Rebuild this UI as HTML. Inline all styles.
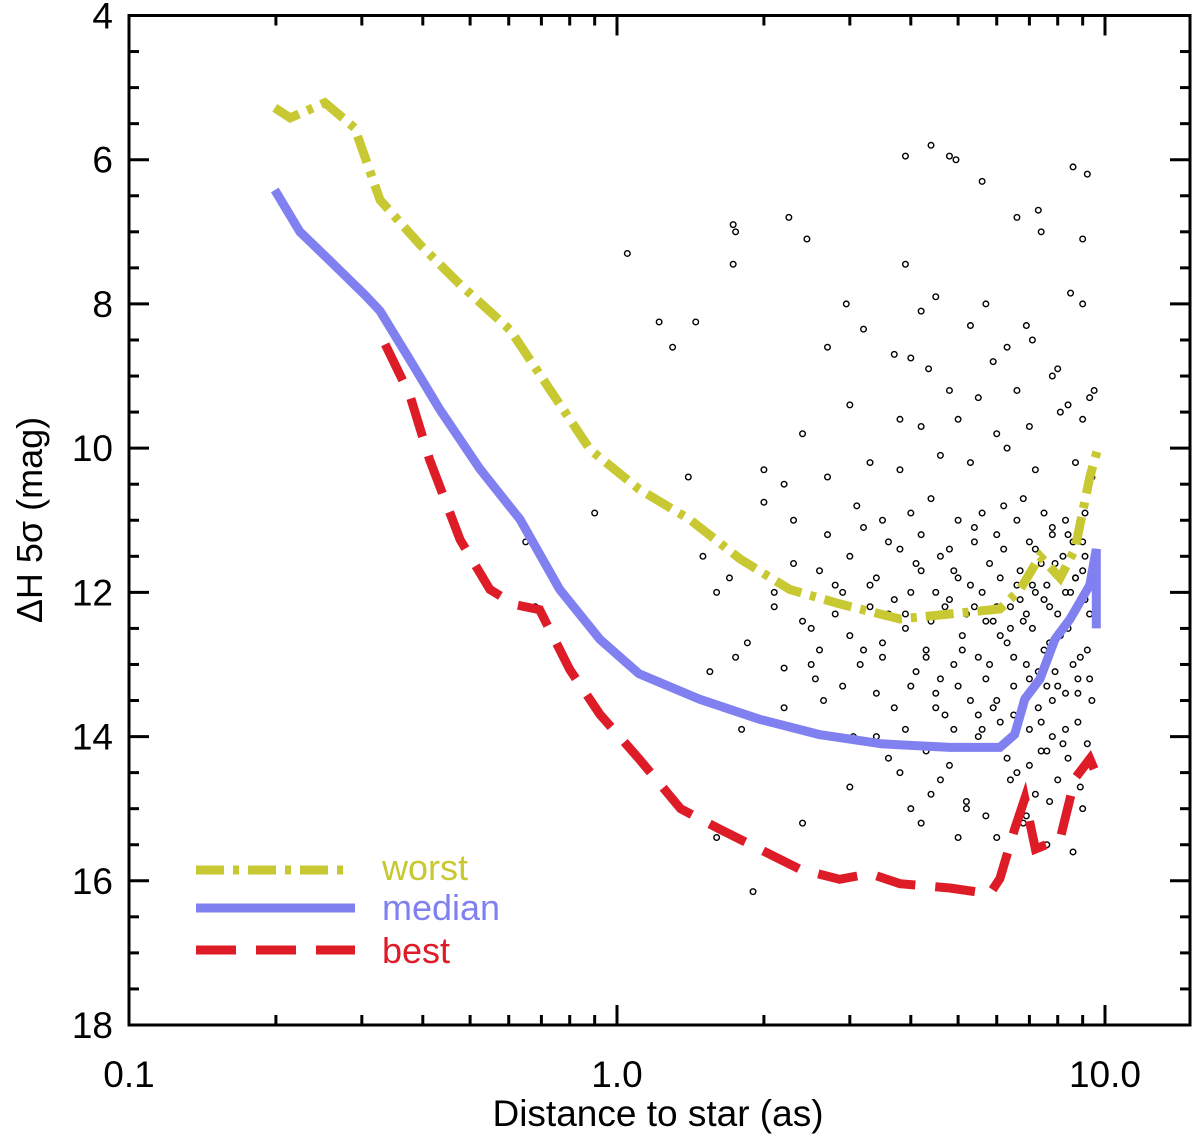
<!DOCTYPE html>
<html><head><meta charset="utf-8"><style>
html,body{margin:0;padding:0;background:#fff;}
svg{display:block;font-family:"Liberation Sans",Arial,sans-serif;}
</style></head><body>
<svg id="chart" width="1200" height="1138" viewBox="0 0 1200 1138" xmlns="http://www.w3.org/2000/svg">
<g id="grid-layer"></g>
<g id="pts"></g>
<g id="lines"></g>
<g id="legend">
  <line x1="196" y1="870" x2="352" y2="870" stroke="#c8c832" stroke-width="9" stroke-dasharray="28,9,6,9"/>
  <text x="382" y="880" font-size="36" fill="#c8c832">worst</text>
  <line x1="196" y1="908" x2="355" y2="908" stroke="#8080f0" stroke-width="9"/>
  <text x="382" y="920" font-size="36" fill="#8080f0">median</text>
  <line x1="196" y1="950" x2="355" y2="950" stroke="#dd1c28" stroke-width="9" stroke-dasharray="40,20"/>
  <text x="382" y="963" font-size="36" fill="#dd1c28">best</text>
</g>
<text x="658" y="1126" font-size="37" text-anchor="middle">Distance to star (as)</text>
<text transform="translate(42,520) rotate(-90)" font-size="36" text-anchor="middle">ΔH 5σ (mag)</text>
</svg>
<script>
const worstX=[0.199,0.214,0.252,0.29,0.327,0.395,0.477,0.604,0.729,0.881,1.11,1.41,1.79,2.26,2.86,3.8,4.81,6.09,6.7,7.36,8.09,8.68,9.31,9.67];
const worstY=[5.28,5.42,5.21,5.56,6.56,7.18,7.73,8.36,9.19,10.02,10.57,10.99,11.54,11.96,12.16,12.37,12.3,12.23,11.96,11.5,11.8,11.4,10.4,10.0];
const medianX=[0.199,0.224,0.258,0.304,0.327,0.376,0.433,0.524,0.633,0.763,0.922,1.11,1.475,1.96,2.59,3.48,4.81,6.09,6.53,6.85,7.36,7.9,8.48,9.31,9.6,9.6];
const medianY=[6.42,7.0,7.4,7.87,8.1,8.77,9.46,10.29,10.99,11.96,12.65,13.13,13.48,13.76,13.97,14.1,14.15,14.15,13.97,13.48,13.2,12.65,12.37,11.9,11.4,12.5];
const bestX=[0.335,0.376,0.413,0.477,0.549,0.617,0.694,0.8,0.922,1.11,1.35,1.62,1.96,2.37,2.86,3.3,3.8,4.81,5.81,6.09,6.53,6.85,7.2,8.09,8.68,9.31,9.5];
const bestY=[8.56,9.26,10.16,11.27,11.96,12.17,12.24,13.07,13.69,14.31,15.0,15.28,15.56,15.84,15.98,15.9,16.04,16.1,16.18,15.97,15.28,14.86,15.56,15.42,14.58,14.31,14.45];
const ptX=[4.4,3.9,4.8,4.95,5.6,8.6,9.2,1.73,1.75,2.25,2.45,6.6,7.3,7.4,9.0,1.05,1.73,3.9,8.5,2.95,9.0,1.22,1.45,1.3,3.2,4.2,5.7,4.5,2.7,6.9,5.3,3.7,4.0,4.35,6.3,7.1,5.9,8.0,9.5,3.0,4.8,5.5,6.6,7.8,8.4,9.3,2.4,3.8,4.2,5.0,6.0,7.0,8.1,9.0,1.4,2.0,2.2,2.7,3.3,3.8,4.6,5.3,6.3,7.2,8.7,9.4,0.9,1.5,1.7,2.0,2.3,2.7,3.1,3.5,4.0,4.4,5.0,5.6,6.2,6.8,7.5,8.3,9.1,1.6,1.75,1.85,2.1,2.2,2.4,2.5,2.6,2.8,2.9,3.0,3.15,3.3,3.5,3.7,3.9,4.1,4.3,4.5,4.7,4.9,5.1,5.3,5.5,5.7,5.9,6.1,6.3,6.5,6.7,6.9,7.1,7.3,7.5,7.7,7.9,8.1,8.3,8.5,8.7,8.9,9.1,9.3,2.3,2.6,3.0,3.4,3.8,4.2,4.6,5.0,5.4,5.8,6.2,6.6,7.0,7.4,7.8,8.2,8.6,9.0,3.2,3.6,4.0,4.4,4.8,5.2,5.6,6.0,6.4,6.8,7.2,7.6,8.0,3.4,3.8,4.0,4.4,4.8,5.2,5.7,6.0,6.4,6.8,7.2,7.6,8.2,8.6,9.0,3.0,2.4,1.9,1.6,4.2,5.0,3.6,3.9,4.3,5.5,6.2,6.6,7.0,7.4,7.8,8.0,8.4,8.8,9.2,4.7,5.9,6.8,7.6,8.6,0.65,0.68,1.55,1.8,2.2,2.55,2.65,2.9,3.05,3.4,
3.5,3.9,4.3,4.6,5.1,5.4,5.8,6.1,6.5,6.9,7.3,7.7,8.0,8.4,8.8,9.2,3.3,3.7,4.1,4.5,4.9,5.3,5.7,6.1,6.4,6.7,7.1,7.5,7.9,8.3,8.7,9.1,4.0,4.5,5.0,5.5,6.0,6.5,7.0,7.4,7.8,8.3,8.8,9.3,3.6,4.2,4.8,5.4,6.0,6.6,7.2,7.8,8.4,9.0,2.1,2.5,2.8,3.2,4.9,5.6,6.3,7.0,7.6,8.2,8.9,9.4,4.6,5.2,6.9,7.7];
const ptY=[5.8,5.95,5.95,6.0,6.3,6.1,6.2,6.9,7.0,6.8,7.1,6.8,6.7,7.0,7.1,7.3,7.45,7.45,7.85,8.0,8.0,8.25,8.25,8.6,8.35,8.1,8.0,7.9,8.6,8.3,8.3,8.7,8.75,8.9,8.6,8.5,8.8,8.9,9.2,9.4,9.2,9.3,9.2,9.0,9.4,9.3,9.8,9.6,9.7,9.6,9.8,9.7,9.5,9.6,10.4,10.3,10.5,10.4,10.2,10.3,10.1,10.2,10.0,10.3,10.2,10.4,10.9,11.5,11.8,10.75,11.0,11.2,10.8,11.0,10.9,10.7,11.0,10.9,10.8,10.7,10.9,11.0,10.9,12.0,12.9,12.7,12.2,13.05,12.4,13.0,12.8,12.3,13.3,12.6,13.0,12.2,12.9,13.6,12.5,13.1,12.8,13.4,12.2,13.0,12.6,13.5,12.9,13.2,12.4,13.8,12.7,13.3,12.1,13.0,12.5,13.6,12.8,12.2,13.1,12.6,13.4,12.0,11.8,12.9,11.5,12.3,11.6,11.7,11.5,11.8,11.4,11.7,11.5,11.8,11.3,11.6,11.4,11.9,11.3,11.6,11.2,11.5,11.3,11.7,11.1,12.3,12.0,12.4,12.1,12.3,12.0,12.2,12.5,12.4,12.0,11.9,12.3,14.0,14.5,15.0,14.8,14.4,14.9,15.1,15.4,14.6,15.2,14.8,15.5,15.3,15.6,15.0,14.7,15.2,16.15,15.4,15.2,15.4,14.3,13.9,14.2,14.0,14.1,14.5,13.9,14.2,14.0,14.6,14.3,13.8,14.1,13.7,13.6,13.5,13.3,13.0,11.3,12.2,13.1,13.9,13.6,13.2,13.5,12.0,14.0,13.4,
12.7,12.3,12.9,13.2,12.8,12.2,13.0,12.6,12.9,12.3,13.1,12.7,13.3,12.5,13.2,12.8,11.9,12.1,11.6,12.0,11.7,11.9,12.4,11.8,12.2,11.7,11.9,12.1,11.6,12.0,11.8,12.1,13.3,13.6,13.3,13.7,13.5,13.7,13.2,13.8,13.5,13.9,13.4,13.2,11.3,11.2,11.4,11.1,11.2,11.0,11.4,11.1,11.2,11.3,12.0,12.5,11.9,12.8,13.9,13.9,14.3,14.4,14.2,14.1,14.7,13.5,14.6,15.0,15.1,14.9];

const NS='http://www.w3.org/2000/svg';
const L=129,R=1190,T=15.5,B=1025,DEC=488;
function xs(v){return L+(Math.log10(v)+1)*DEC;}
function ys(v){return T+(v-4)*(B-T)/14;}
function mk(tag,attrs,parent){const e=document.createElementNS(NS,tag);for(const k in attrs)e.setAttribute(k,attrs[k]);parent.appendChild(e);return e;}
const ax=document.getElementById('grid-layer');
const frame=mk('rect',{x:L,y:T,width:R-L,height:B-T,fill:'none',stroke:'#000','stroke-width':3},ax);


for(let v=4;v<=18;v+=0.5){
  const y=ys(v),maj=(v%2===0),len=maj?20:10;
  const t1=mk('line',{x1:L,y1:y,x2:L+len,y2:y,stroke:'#000','stroke-width':3},ax);
  
  
  const t2=mk('line',{x1:R,y1:y,x2:R-len,y2:y,stroke:'#000','stroke-width':3},ax);
  
  
  if(maj){const tx=mk('text',{x:L-16,y:y+13,'font-size':37,'text-anchor':'end'},ax);tx.textContent=String(v);
  
  }
}
const xLabels=['0.1','1.0','10.0'];
for(let d=-1;d<=1;d++){
  for(let m=1;m<=9;m++){
    const v=m*Math.pow(10,d),x=xs(v);if(x>R)continue;
    const len=m===1?20:10;
    const t1=mk('line',{x1:x,y1:B,x2:x,y2:B-len,stroke:'#000','stroke-width':3},ax);
    
    
    const t2=mk('line',{x1:x,y1:T,x2:x,y2:T+len,stroke:'#000','stroke-width':3},ax);
    
    
    if(m===1){const tx=mk('text',{x:x,y:B+62,'font-size':37,'text-anchor':'middle'},ax);tx.textContent=xLabels[d+1];
    
    }
  }
}
const pg=document.getElementById('pts');
for(let i=0;i<ptX.length;i++){
  const c=mk('circle',{cx:xs(ptX[i]),cy:ys(ptY[i]),r:2.8,fill:'none',stroke:'#000','stroke-width':1.4},pg);
  
  
}
const lg=document.getElementById('lines');
function path(X,Y){return X.map((v,i)=>(i?'L':'M')+xs(v).toFixed(1)+','+ys(Y[i]).toFixed(1)).join(' ');}
const pw=mk('path',{d:path(worstX,worstY),fill:'none',stroke:'#c8c832','stroke-width':9,'stroke-dasharray':'28,9,6,9'},lg);


const pm=mk('path',{d:path(medianX,medianY),fill:'none',stroke:'#8080f0','stroke-width':9},lg);


const pb=mk('path',{d:path(bestX,bestY),fill:'none',stroke:'#dd1c28','stroke-width':9,'stroke-dasharray':'40,20'},lg);


</script>
</body></html>
